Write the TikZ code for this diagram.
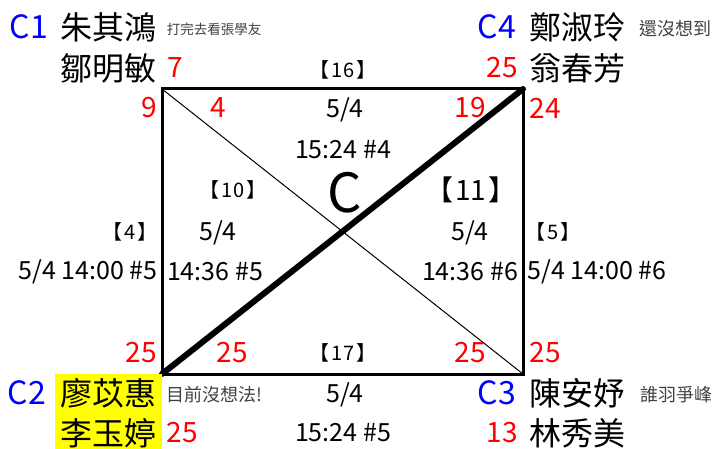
\documentclass[tikz,border=0pt]{standalone}
\usepackage{fontspec}
\setmainfont{Noto Sans CJK TC}
\definecolor{cblue}{RGB}{0,0,255}
\definecolor{cred}{RGB}{255,0,0}
\definecolor{hl}{RGB}{255,255,0}
\tikzset{
  lbl/.style={inner sep=0pt, font=\fontsize{32}{34}\selectfont, text=cblue},
  nm/.style={inner sep=0pt, font=\fontsize{32}{34}\selectfont},
  num/.style={inner sep=0pt, font=\fontsize{28}{30}\selectfont, text=cred},
  info/.style={inner sep=0pt, font=\fontsize{25}{27}\selectfont},
  tag/.style={inner sep=0pt, font=\fontsize{20}{22}\selectfont},
  note/.style={inner sep=0pt, font=\fontsize{18}{20}\selectfont, text=black!75},
  hlbox/.style={fill=hl, minimum width=107pt, minimum height=39pt, inner sep=0pt}
}
\newcommand{\brk}[1]{【\hspace{2pt}#1\hspace{2pt}】}
\begin{document}
\begin{tikzpicture}[x=1pt,y=-1pt]
  \useasboundingbox (0,0) rectangle (718,449);
  % court corners
  \coordinate (tl) at (162,89);
  \coordinate (tr) at (523,89);
  \coordinate (bl) at (162,374);
  \coordinate (br) at (523,374);
  \draw[line width=1pt] (tl) -- (br);
  \draw[line width=6pt, line cap=round] (bl) -- (tr);
  \draw[line width=3pt] (tl) -- (tr) -- (br) -- (bl) -- cycle;
  % highlight
  \node[hlbox] (hla) at (108,393) {};
  \node[hlbox] (hlb) at (108,432) {};
  % C1
  \node[lbl] (c1) at (29,27) {C1};
  \node[nm] (p1a) at (108,27) {朱其鴻};
  \node[note, font=\fontsize{13.5}{15}\selectfont] (n1) at (214,29) {打完去看張學友};
  \node[nm] (p1b) at (108,68) {鄒明敏};
  \node[num] (s1) at (175,68) {7};
  % C4
  \node[lbl] (c4) at (497,27) {C4};
  \node[nm] (p4a) at (577,27) {鄭淑玲};
  \node[note] (n4) at (675,29) {還沒想到};
  \node[num] (s4) at (502,68) {25};
  \node[nm] (p4b) at (577,68) {翁春芳};
  % C2
  \node[lbl] (c2) at (27,393) {C2};
  \node[nm] (p2a) at (108,393) {廖苡惠};
  \node[note] (n2) at (214,395) {目前沒想法!};
  \node[nm] (p2b) at (108,433) {李玉婷};
  \node[num] (s2) at (182,433) {25};
  % C3
  \node[lbl] (c3) at (497,393) {C3};
  \node[nm] (p3a) at (577,393) {陳安妤};
  \node[note] (n3) at (676,395) {誰羽爭峰};
  \node[num] (s3) at (502,433) {13};
  \node[nm] (p3b) at (577,433) {林秀美};
  % corner scores
  \node[num] (k1) at (149,108) {9};
  \node[num] (k2) at (218,108) {4};
  \node[num] (k3) at (470,108) {19};
  \node[num] (k4) at (545,108) {24};
  \node[num] (k5) at (141,353) {25};
  \node[num] (k6) at (232,353) {25};
  \node[num] (k7) at (470,353) {25};
  \node[num] (k8) at (545,353) {25};
  % matches
  \node[tag] (m16) at (343,70) {\brk{16}};
  \node[info] (d16) at (345,110) {5/4};
  \node[info] (t16) at (343,150) {15:24 \#4};
  \node[inner sep=0pt, font=\fontsize{54}{56}\selectfont] (ctr) at (345,193) {C};
  \node[tag] (m10) at (233,190) {\brk{10}};
  \node[info] (d10) at (218,233) {5/4};
  \node[info] (t10) at (215,272) {14:36 \#5};
  \node[inner sep=0pt, font=\fontsize{28}{30}\selectfont] (m11) at (471,190) {\brk{11}};
  \node[info] (d11) at (470,233) {5/4};
  \node[info] (t11) at (470,272) {14:36 \#6};
  \node[tag] (m4) at (130,232) {\brk{4}};
  \node[info] (t4) at (88,272) {5/4 14:00 \#5};
  \node[tag] (m5) at (553,232) {\brk{5}};
  \node[info] (t5) at (597,272) {5/4 14:00 \#6};
  \node[tag] (m17) at (343,353) {\brk{17}};
  \node[info] (d17) at (345,395) {5/4};
  \node[info] (t17) at (343,433) {15:24 \#5};
\end{tikzpicture}
\end{document}
